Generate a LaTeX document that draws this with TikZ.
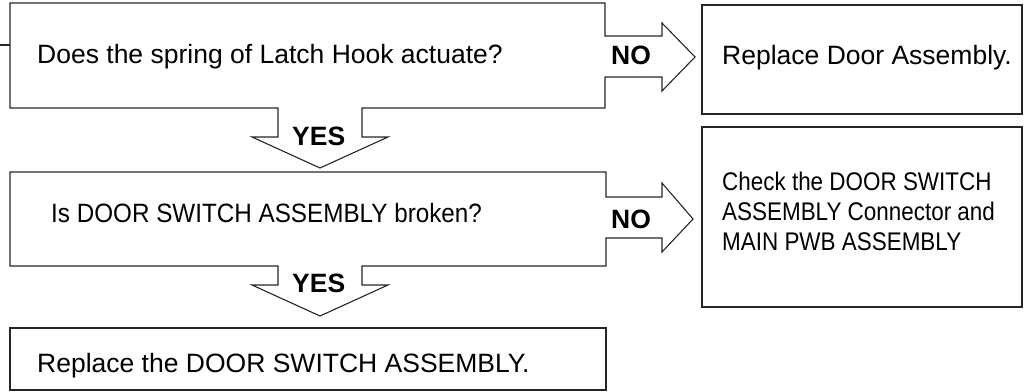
\documentclass[tikz,border=0pt]{standalone}
\usepackage{fontspec}
\setmainfont{Liberation Sans}
\newfontfamily\narrowA[FakeStretch=0.915]{Liberation Sans}
\newfontfamily\narrowB[FakeStretch=0.88]{Liberation Sans}
\begin{document}
\begin{tikzpicture}[x=1pt,y=-1pt,
  outline/.style={draw=black!85,line width=1.1pt,line join=miter},
  txt/.style={anchor=base west,inner sep=0pt,font=\fontsize{26.5}{30}\selectfont},
  txtA/.style={anchor=base west,inner sep=0pt,font=\narrowA\fontsize{26.5}{30}\selectfont},
  txtB/.style={anchor=base west,inner sep=0pt,align=left,font=\narrowB\fontsize{25.5}{30}\selectfont},
  lbl/.style={anchor=base west,inner sep=0pt,font=\bfseries\fontsize{26.5}{30}\selectfont}]
\useasboundingbox (0,0) rectangle (1024,391);
% question 1 with NO and YES block arrows
\draw[outline] (10,3) -- (605,3) -- (605,36) -- (662,36) -- (662,23) -- (695,57)
  -- (662,91) -- (662,77) -- (605,77) -- (605,108) -- (362,108) -- (362,137)
  -- (388,137) -- (320,168) -- (252,137) -- (278,137) -- (278,108) -- (10,108) -- cycle;
\coordinate (stub) at (0,45);
\coordinate (q1left) at (10,45);
\draw[outline] (stub) -- (q1left);
% question 2 with NO and YES block arrows
\draw[outline] (10,172) -- (606,172) -- (606,197) -- (662,197) -- (662,183) -- (693,219)
  -- (662,252) -- (662,238) -- (606,238) -- (606,266) -- (362,266) -- (362,285)
  -- (388,285) -- (320,316) -- (252,285) -- (278,285) -- (278,266) -- (10,266) -- cycle;
% result boxes
\draw[outline] (702,5) rectangle (1022,114);
\draw[outline] (702,127) rectangle (1022,307);
\draw[outline] (10,328) rectangle (606,390);
% texts
\node[txt] (q1) at (37,63.5) {Does the spring of Latch Hook actuate?};
\node[lbl] (no1) at (611,64.5) {NO};
\node[lbl] (yes1) at (292,145) {YES};
\node[txt] (r1) at (722,64.5) {Replace Door Assembly.};
\node[txtA] (q2) at (51,222) {Is DOOR SWITCH ASSEMBLY broken?};
\node[lbl] (no2) at (611,228.5) {NO};
\node[lbl] (yes2) at (292,292) {YES};
\node[txtB] (r2a) at (722,190) {Check the DOOR SWITCH};
\node[txtB] (r2b) at (722,220) {ASSEMBLY Connector and};
\node[txtB] (r2c) at (722,250) {MAIN PWB ASSEMBLY};
\node[txt] (r3) at (37,372) {Replace the DOOR SWITCH ASSEMBLY.};
\end{tikzpicture}
\end{document}
